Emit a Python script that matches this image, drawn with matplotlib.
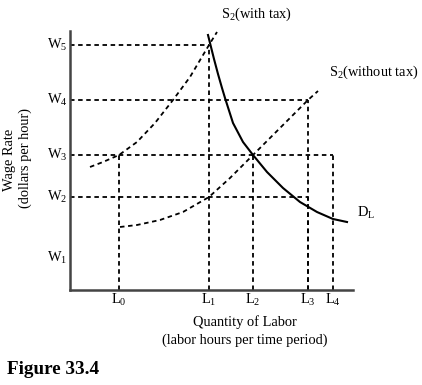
import matplotlib.pyplot as plt

plt.rcParams['font.family'] = 'Liberation Serif'
plt.rcParams['mathtext.fontset'] = 'custom'
plt.rcParams['mathtext.rm'] = 'Liberation Serif'
plt.rcParams['mathtext.default'] = 'regular'

# wage levels and labour quantities (axis units)
w_names = ['W$_1$', 'W$_2$', 'W$_3$', 'W$_4$', 'W$_5$']
w_vals = [32, 93, 135, 190, 245]
l_names = ['L$_0$', 'L$_1$', 'L$_2$', 'L$_3$', 'L$_4$']
l_vals = [49, 139, 183, 238, 263]

# supply with tax
s_tax_x = [20, 33, 49, 67, 85, 103, 120, 139, 147]
s_tax_y = [123, 128, 135, 148, 167, 190, 213, 245, 258]
# supply without tax
s_x = [50, 67, 90, 113, 139, 160, 183, 210, 238, 248]
s_y = [63, 65, 70, 78, 93, 112, 135, 162, 190, 199]
# labour demand
d_x = [138, 141, 144, 148, 152, 155, 163, 173, 183, 197, 213, 230, 247, 263, 277]
d_y = [255, 243, 231, 216, 202, 192, 167, 148, 135, 118, 102, 88, 78, 71, 68]

fig = plt.figure(figsize=(4.22, 3.85), dpi=100)
ax = fig.add_axes([70/422, 95/385, 283/422, 259/385])
ax.set_xlim(0, 283)
ax.set_ylim(0, 259)
for s in ['top', 'right']:
    ax.spines[s].set_visible(False)
for s in ['left', 'bottom']:
    ax.spines[s].set_linewidth(1.8)
    ax.spines[s].set_color('#444444')
ax.set_xticks([])
ax.set_yticks([])

dash = dict(color='black', lw=1.3, linestyle=(0, (2.5, 2)), clip_on=False)

# guide lines: (wage index, labour index) pairs
guides = [(4, 1), (3, 3), (2, 4), (1, 3)]
for wi, li in guides:
    ax.plot([0, l_vals[li]], [w_vals[wi], w_vals[wi]], **dash)
    ax.plot([l_vals[li], l_vals[li]], [0, w_vals[wi]], **dash)
ax.plot([l_vals[0], l_vals[0]], [0, w_vals[2]], **dash)
ax.plot([l_vals[2], l_vals[2]], [0, w_vals[2]], **dash)

ax.plot(s_tax_x, s_tax_y, **dash)
ax.plot(s_x, s_y, **dash)
ax.plot(d_x, d_y, color='black', lw=1.5, clip_on=False)

fs = 10.4
for n, v in zip(w_names, w_vals):
    ax.text(-13, v, n, ha='center', va='center', fontsize=fs)
for n, v in zip(l_names, l_vals):
    ax.text(v, -10, n, ha='center', va='center', fontsize=fs)

ax.text(187, 276, 'S$_2$(with tax)', ha='center', va='center', fontsize=fs, clip_on=False)
ax.text(304, 218, 'S$_2$(without tax)', ha='center', va='center', fontsize=fs, clip_on=False)
ax.text(287, 77, 'D$_L$', ha='left', va='center', fontsize=fs)

ax.text(175, -32, 'Quantity of Labor', ha='center', va='center', fontsize=fs)
ax.text(175, -50, '(labor hours per time period)', ha='center', va='center', fontsize=fs)
ax.text(-60, 130, 'Wage Rate', ha='center', va='center', rotation=90, fontsize=fs)
ax.text(-45, 132, '(dollars per hour)', ha='center', va='center', rotation=90, fontsize=fs)

fig.text(7/422, 1 - 370/385, 'Figure 33.4', ha='left', va='center',
         fontsize=13.8, fontweight='bold')

fig.savefig('out.png', dpi=100)
